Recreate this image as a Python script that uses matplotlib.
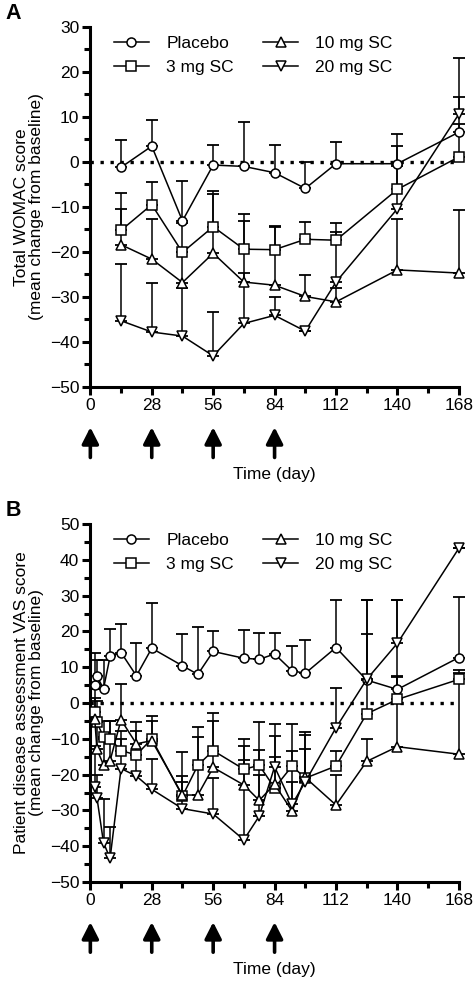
import numpy as np
import matplotlib
matplotlib.use("Agg")
import matplotlib.pyplot as plt
from matplotlib.ticker import MultipleLocator
import matplotlib.transforms as mtransforms

plt.rcParams['font.family'] = ['Liberation Sans', 'DejaVu Sans']

# ---------------- Panel A data: Total WOMAC score ----------------
days_A = [14, 28, 42, 56, 70, 84, 98, 112, 140, 168]
placebo_A = [-1.2, 3.5, -13.1, -0.7, -1.0, -2.4, -5.9, -0.4, -0.4, 6.6]
placebo_A_top = [4.8, 9.3, -4.3, 3.7, 8.8, 3.7, -0.1, 4.4, 6.3, 14.5]
mg3_A = [-15.2, -9.5, -20.1, -14.4, -19.4, -19.5, -17.2, -17.4, -6.1, 1.1]
mg3_A_top = [-10.4, -4.4, -13.5, -6.4, -11.6, -14.2, -13.3, -13.5, 3.5, 8.4]
mg10_A = [-18.4, -21.6, -26.8, -20.3, -26.7, -27.4, -29.9, -31.1, -24.0, -24.7]
mg10_A_top = [-6.8, -12.6, -20.0, -7.2, -13.1, -14.5, -25.1, -28.0, -12.7, -10.6]
mg20_A = [-35.3, -37.8, -38.7, -43.1, -35.9, -34.1, -37.6, -26.7, -10.4, 10.6]
mg20_A_top = [-22.7, -27.0, -28.0, -33.3, -24.6, -30.0, -37.6, -15.6, -1.0, 23.0]

# ---------------- Panel B data: Patient disease assessment VAS ----------------
days_B = [2, 3, 6, 9, 14, 21, 28, 42, 49, 56, 70, 77, 84, 92, 98, 112, 126, 140, 168]
placebo_B = [5.0, 7.5, 4.0, 13.0, 14.1, 7.6, 15.3, 10.4, 8.0, 14.4, 12.5, 12.2, 13.7, 9.0, 8.3, 15.5, 6.4, 3.8, 12.7]
placebo_B_top = [13.9, 12.0, 12.0, 20.8, 22.2, 16.9, 27.8, 19.4, 21.1, 20.0, 20.5, 19.5, 19.5, 16.0, 17.7, 28.7, 19.4, 7.5, 29.7]
mg3_B = [-2.5, -5.4, -9.5, -10.0, -13.3, -14.5, -10.0, -26.0, -17.4, -13.3, -18.5, -17.4, -23.7, -17.6, -21.0, -17.6, -3.0, 1.0, 6.6]
mg3_B_top = [1.5, 0.5, -5.0, -4.9, -7.9, -7.9, -3.7, -13.8, -6.6, -2.8, -12.0, -5.3, -15.2, -5.8, -12.8, -13.5, 28.7, 7.3, 9.2]
mg10_B = [-4.4, -12.9, -17.3, -16.1, -4.7, -11.4, -10.5, -25.7, -25.7, -18.0, -22.9, -27.2, -22.7, -30.2, -20.8, -28.5, -16.3, -12.2, -14.3]
mg10_B_top = [4.0, -5.0, -10.0, -5.0, 5.2, -5.4, -4.9, -22.0, -9.6, -4.9, -16.0, -20.0, -6.0, -13.3, -8.2, -20.0, -10.0, 28.7, 8.5]
mg20_B = [-23.5, -26.4, -39.0, -43.4, -18.3, -20.4, -24.1, -29.5, None, -31.0, -38.2, -31.6, -17.8, -28.3, -22.0, -6.9, 6.6, 16.7, 43.2]
mg20_B_top = [-12.0, -20.0, -26.8, -34.5, -10.0, -14.5, -15.7, -20.4, None, -21.0, -10.0, -13.1, -9.1, -22.0, -8.9, 4.3, 28.7, 28.7, 43.2]

labels = ["Placebo", "3 mg SC", "10 mg SC", "20 mg SC"]
markers = ["o", "s", "^", "v"]
dose_days = [0, 28, 56, 84]

fig = plt.figure(figsize=(4.73, 9.82), dpi=100)

def clean(x, y, t):
    xs, ys, ts = [], [], []
    for a, b, c in zip(x, y, t):
        if b is None:
            continue
        xs.append(a); ys.append(b); ts.append(c if c is not None else b)
    return np.array(xs, float), np.array(ys, float), np.array(ts, float)

def panel(rect, days, series, ylim, ylabel, letter):
    ax = fig.add_axes(rect)
    ax.axhline(0, color='black', lw=2.4, ls=(0, (1, 2)), zorder=1)
    handles = []
    for (y, top), lab, mk in zip(series, labels, markers):
        x, yv, tv = clean(days, y, top)
        up = np.clip(tv - yv, 0, None)
        ax.errorbar(x, yv, yerr=[np.zeros_like(up), up], fmt='none',
                    ecolor='black', elinewidth=1.1, capsize=4.5, capthick=1.3,
                    zorder=2, clip_on=False)
        h, = ax.plot(x, yv, color='black', lw=1.1, marker=mk, ms=6.5,
                     mfc='white', mec='black', mew=1.1, zorder=3, label=lab,
                     clip_on=False)
        handles.append(h)
    ax.set_xlim(0, 168)
    ax.set_ylim(*ylim)
    ax.xaxis.set_major_locator(MultipleLocator(28))
    ax.xaxis.set_minor_locator(MultipleLocator(14))
    ax.yaxis.set_major_locator(MultipleLocator(10))
    ax.yaxis.set_minor_locator(MultipleLocator(5))
    for s in ['top', 'right']:
        ax.spines[s].set_visible(False)
    for s in ['left', 'bottom']:
        ax.spines[s].set_linewidth(2.2)
    ax.tick_params(which='major', direction='out', length=6, width=2.2,
                   labelsize=12.5, pad=2)
    ax.tick_params(which='minor', direction='out', length=4, width=2.2)
    ax.set_ylabel(ylabel, fontsize=12.5, labelpad=4, linespacing=1.05)
    ax.set_xlabel("Time (day)", fontsize=12.5, labelpad=39)
    ax.legend(handles=handles, ncol=2, loc='upper left', frameon=False,
              bbox_to_anchor=(0.055, 0.985), borderaxespad=0, fontsize=12.5,
              handlelength=2.0, handletextpad=1.0, columnspacing=1.7,
              labelspacing=0.5, borderpad=0.2)
    trans = mtransforms.blended_transform_factory(ax.transData, ax.transAxes)
    for d in dose_days:
        ax.annotate('', xy=(d, -0.112), xytext=(d, -0.196), xycoords=trans,
                    textcoords=trans,
                    arrowprops=dict(arrowstyle='-|>,head_length=0.55,head_width=0.28',
                                    lw=2.6, color='black', shrinkA=0, shrinkB=0,
                                    mutation_scale=18))
    fig.text(0.012, rect[1] + rect[3] + 0.014, letter, fontsize=15.5,
             fontweight='bold', va='center', ha='left')
    return ax

seriesA = [(placebo_A, placebo_A_top), (mg3_A, mg3_A_top),
           (mg10_A, mg10_A_top), (mg20_A, mg20_A_top)]
seriesB = [(placebo_B, placebo_B_top), (mg3_B, mg3_B_top),
           (mg10_B, mg10_B_top), (mg20_B, mg20_B_top)]

panel([0.191, 0.606, 0.779, 0.3666], days_A, seriesA, (-50, 30),
      "Total WOMAC score\n(mean change from baseline)", "A")
panel([0.191, 0.1018, 0.779, 0.3646], days_B, seriesB, (-50, 50),
      "Patient disease assessment VAS score\n(mean change from baseline)", "B")

fig.savefig("out.png", dpi=100)
